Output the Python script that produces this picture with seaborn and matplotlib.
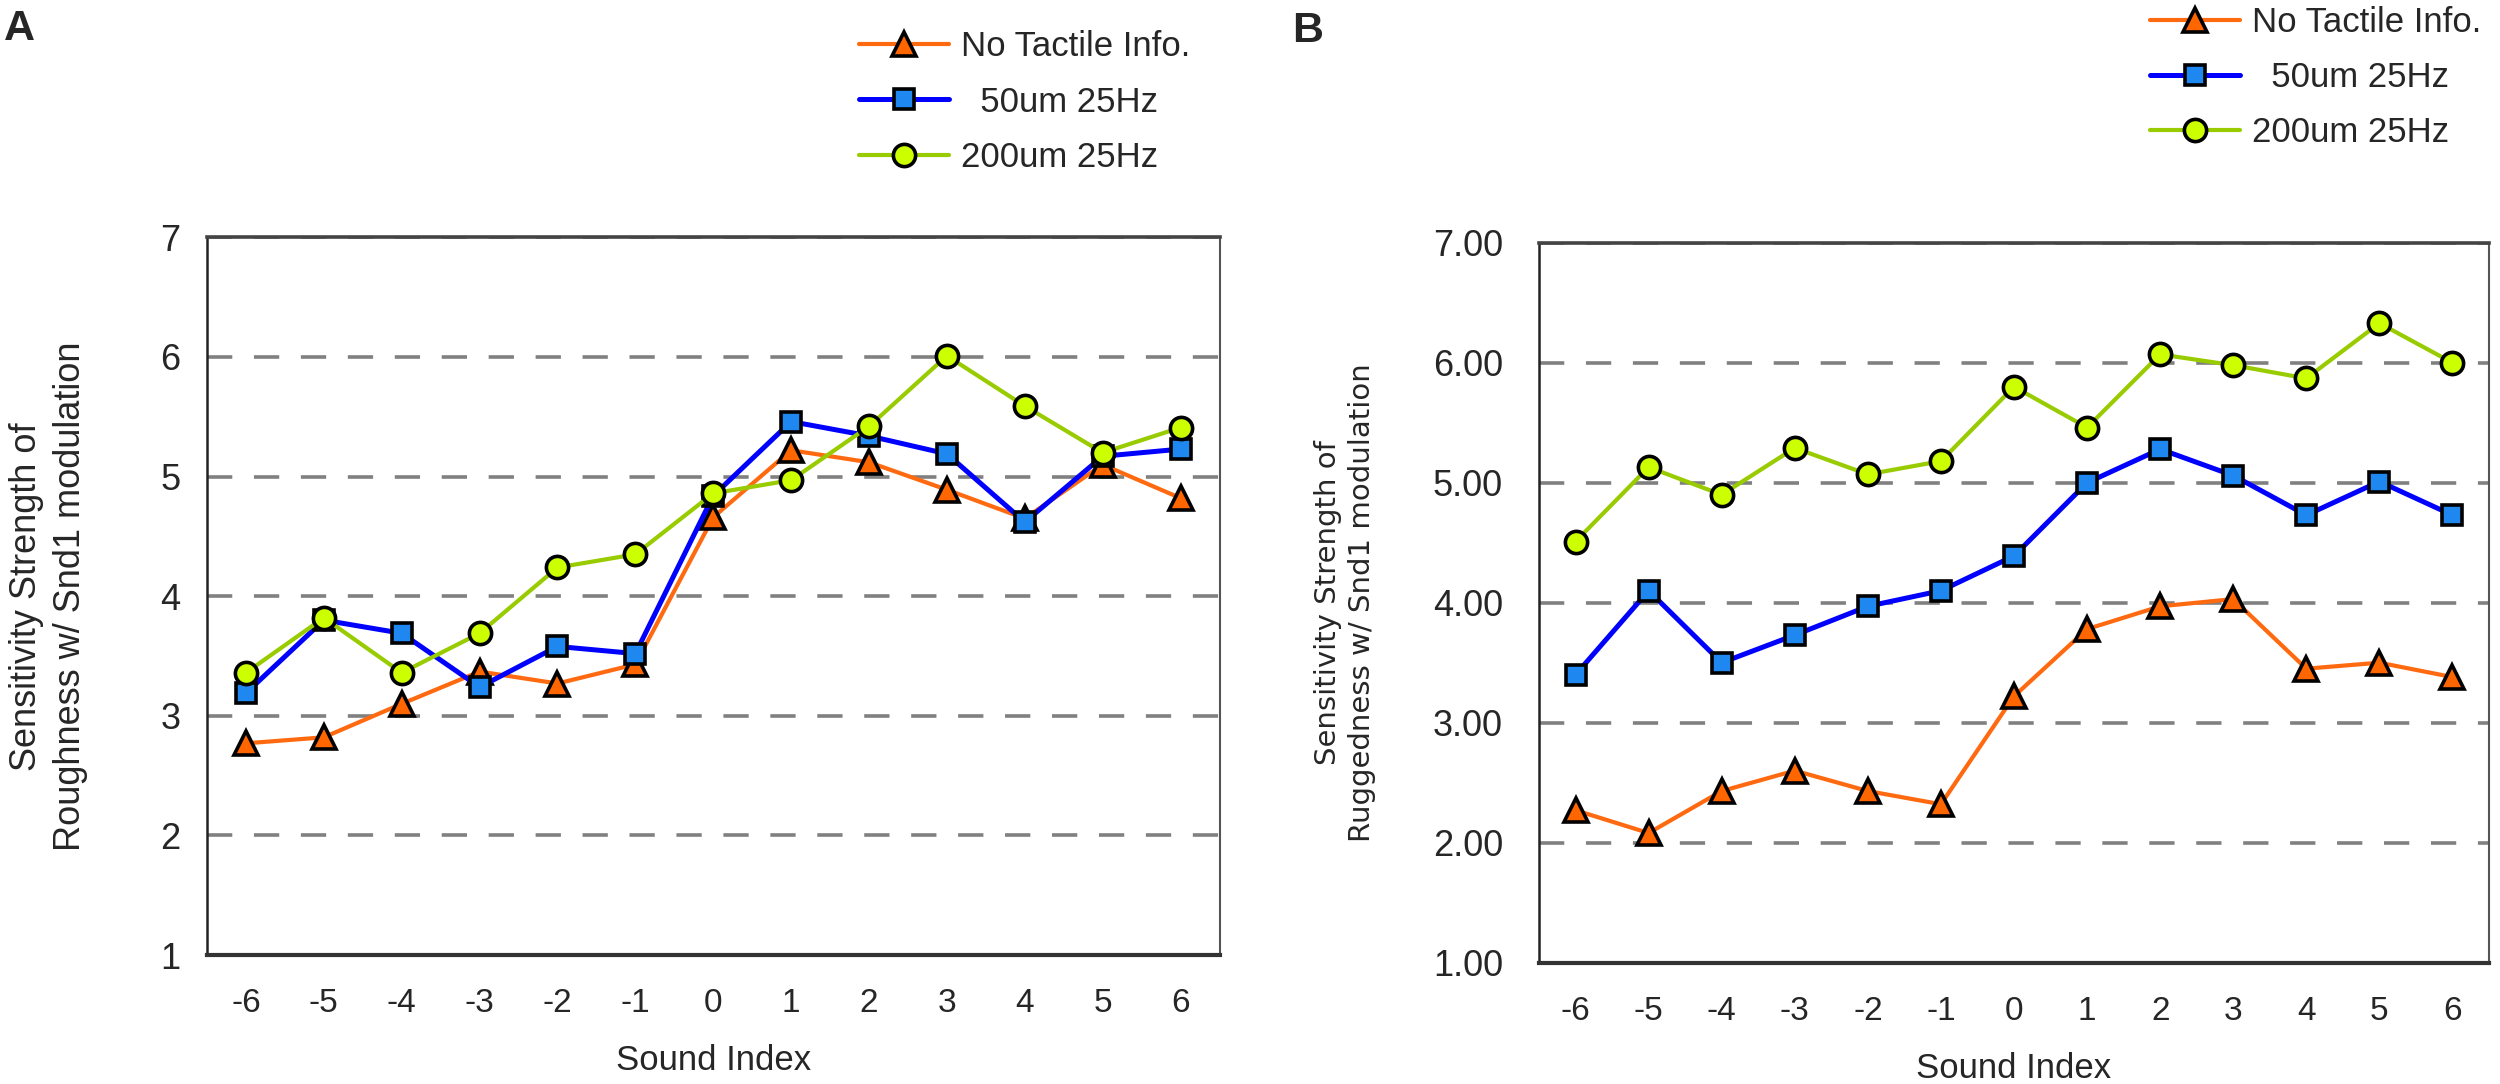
# plot.py
# Sensitivity strength vs. sound index, two panels (A: roughness, B: ruggedness)

import numpy as np
import pandas as pd
import seaborn as sns
import matplotlib.pyplot as plt

# --- data ---
sound_index = [-6, -5, -4, -3, -2, -1, 0, 1, 2, 3, 4, 5, 6]
series_names = ["No Tactile Info.", "  50um 25Hz", "200um 25Hz"]

a_no_tactile = [2.77, 2.82, 3.10, 3.37, 3.27, 3.43, 4.66, 5.22, 5.12, 4.89, 4.65, 5.10, 4.82]
a_50um = [3.19, 3.80, 3.69, 3.24, 3.58, 3.52, 4.84, 5.46, 5.34, 5.19, 4.62, 5.17, 5.23]
a_200um = [3.36, 3.82, 3.36, 3.69, 4.24, 4.35, 4.86, 4.97, 5.42, 6.01, 5.59, 5.20, 5.41]

b_no_tactile = [2.27, 2.08, 2.43, 2.60, 2.43, 2.32, 3.22, 3.78, 3.97, 4.03, 3.45, 3.50, 3.38]
b_50um = [3.40, 4.10, 3.50, 3.73, 3.97, 4.10, 4.39, 5.00, 5.28, 5.06, 4.73, 5.01, 4.73]
b_200um = [4.51, 5.13, 4.90, 5.29, 5.07, 5.18, 5.80, 5.46, 6.07, 5.98, 5.87, 6.33, 6.00]

y_ticks = [1, 2, 3, 4, 5, 6, 7]

# --- style ---
sns.set_style("white")
plt.rcParams['font.family'] = ['Liberation Sans', 'DejaVu Sans']
plt.rcParams['axes.unicode_minus'] = False

styles = [
    dict(color="#FF6A10", marker="^", markerfacecolor="#FF6600", lw=3.0, markersize=17),
    dict(color="#0000FF", marker="s", markerfacecolor="#1E88F0", lw=3.6, markersize=15),
    dict(color="#99CC00", marker="o", markerfacecolor="#CCFF00", lw=3.0, markersize=16),
]

fig = plt.figure(figsize=(25, 10.84), dpi=100)
ax_a = fig.add_axes([0.0828, 0.119, 0.405, 0.662])
ax_b = fig.add_axes([0.6156, 0.112, 0.380, 0.664])


def draw_panel(ax, values, ylabel, yfmt, ylabel_font, ylabel_x, ytick_pad):
    df = pd.DataFrame({"Sound Index": sound_index * 3,
                       "value": np.concatenate(values),
                       "series": np.repeat(series_names, len(sound_index))})
    for name, st in zip(series_names, styles):
        sub = df[df["series"] == name]
        sns.lineplot(data=sub, x="Sound Index", y="value", ax=ax, label=name,
                     markeredgecolor="black", markeredgewidth=2.6, zorder=3, **st)

    ax.set_xlim(-6.5, 6.5)
    ax.set_ylim(1, 7)
    ax.set_xticks(sound_index)
    ax.set_xticks(np.arange(-5.5, 6.0, 1.0), minor=True)
    ax.set_yticks(y_ticks)
    ax.set_yticklabels([yfmt.format(v) for v in y_ticks])
    ax.tick_params(axis="x", which="major", length=0, pad=24, labelsize=24)
    ax.tick_params(axis="x", which="minor", direction="in", length=7, width=1.8,
                   color="#333333")
    ax.tick_params(axis="y", length=0, pad=ytick_pad, labelsize=26)

    ax.yaxis.grid(True, color="#808080", lw=2.6, linestyle=(0, (7, 6)))
    ax.xaxis.grid(False)
    ax.set_axisbelow(True)

    ax.spines["bottom"].set_linewidth(3.0)
    ax.spines["bottom"].set_color("#333333")
    ax.spines["left"].set_linewidth(1.8)
    ax.spines["left"].set_color("#222222")
    ax.spines["top"].set_linewidth(2.6)
    ax.spines["top"].set_color("#444444")
    ax.spines["right"].set_linewidth(1.5)
    ax.spines["right"].set_color("#555555")

    ax.set_xlabel("Sound Index", fontsize=25, labelpad=18)
    ax.set_ylabel(ylabel, **ylabel_font)
    ax.yaxis.set_label_coords(ylabel_x, 0.5)
    ax.get_legend().remove()


draw_panel(ax_a, [a_no_tactile, a_50um, a_200um],
           "Sensitivity Strength of\nRoughness w/ Snd1 modulation", "{:d}",
           dict(fontsize=26, linespacing=1.3), -0.118, 19)
draw_panel(ax_b, [b_no_tactile, b_50um, b_200um],
           "Sensitivity Strength of\nRuggedness w/ Snd1 modulation", "{:.2f}",
           dict(fontsize=21, linespacing=1.25, family="DejaVu Sans"), -0.172, 26)

# legends sit above each panel
for ax, (lx, ly) in [(ax_a, (0.3436, 0.972)), (ax_b, (0.860, 0.9945))]:
    h, l = ax.get_legend_handles_labels()
    ax.legend(h, l, loc="upper left", bbox_to_anchor=(lx, ly),
              bbox_transform=fig.transFigure, frameon=False, fontsize=25,
              handlelength=2.6, handletextpad=0.35, labelspacing=0.64,
              borderpad=0, borderaxespad=0)

fig.text(0.0016, 0.992, "A", fontsize=31, fontweight="bold", va="top", ha="left")
fig.text(0.517, 0.99, "B", fontsize=31, fontweight="bold", va="top", ha="left")

plt.savefig("out.png", dpi=100)
